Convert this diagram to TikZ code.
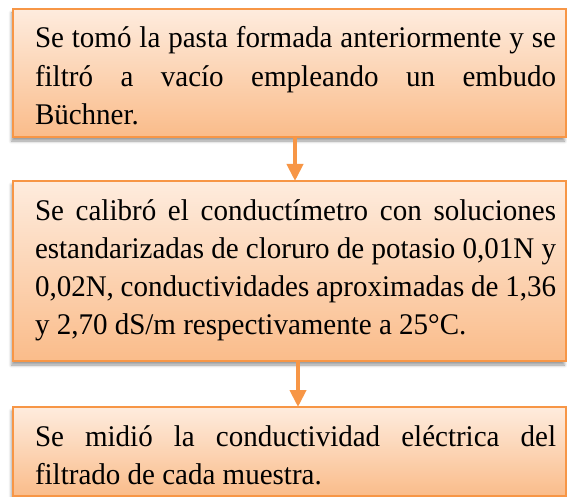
\documentclass[tikz,border=0pt]{standalone}
\usepackage{fontspec}
\setmainfont[FakeStretch=0.967]{Liberation Serif}
\usetikzlibrary{shadows.blur,arrows.meta}
\definecolor{boxedge}{HTML}{F79646}
\definecolor{boxtop}{RGB}{254,236,222}
\definecolor{boxbot}{RGB}{250,188,138}
\newcommand{\boxtext}[2]{\hspace*{22pt}\parbox[c][#1][t]{521pt}{\fontsize{30}{38.3}\selectfont\rule{0pt}{39pt}#2}\hspace*{10pt}}
\tikzset{
  procbox/.style={draw=boxedge, line width=1.5pt, top color=boxtop, bottom color=boxbot,
    inner sep=0pt, outer sep=0pt, anchor=north west,
    blur shadow={shadow xshift=-1.5pt, shadow yshift=-4pt, shadow blur radius=3pt, shadow opacity=40}},
  arr/.style={draw=boxedge, line width=4pt, -{Triangle[width=16pt,length=17pt]}}
}
\begin{document}
\begin{tikzpicture}[x=1pt,y=-1pt]
\useasboundingbox (0,0) rectangle (567,497);
\node[procbox] (b1) at (13,9) {\boxtext{128pt}{Se tomó la pasta formada anteriormente y se\linebreak filtró a vacío empleando un embudo\linebreak Büchner.}};
\node[procbox] (b2) at (13,181) {\boxtext{180pt}{Se calibró el conductímetro con soluciones\linebreak estandarizadas de cloruro de potasio 0,01N y\linebreak 0,02N, conductividades aproximadas de 1,36\linebreak y 2,70 dS/m respectivamente a 25°C.}};
\node[procbox] (b3) at (13,407) {\boxtext{89pt}{Se midió la conductividad eléctrica del\linebreak filtrado de cada muestra.}};
\draw[arr] ([xshift=5.5pt]b1.south) -- ([xshift=5.5pt]b2.north);
\draw[arr] ([xshift=8.5pt]b2.south) -- ([xshift=8.5pt]b3.north);
\end{tikzpicture}
\end{document}
